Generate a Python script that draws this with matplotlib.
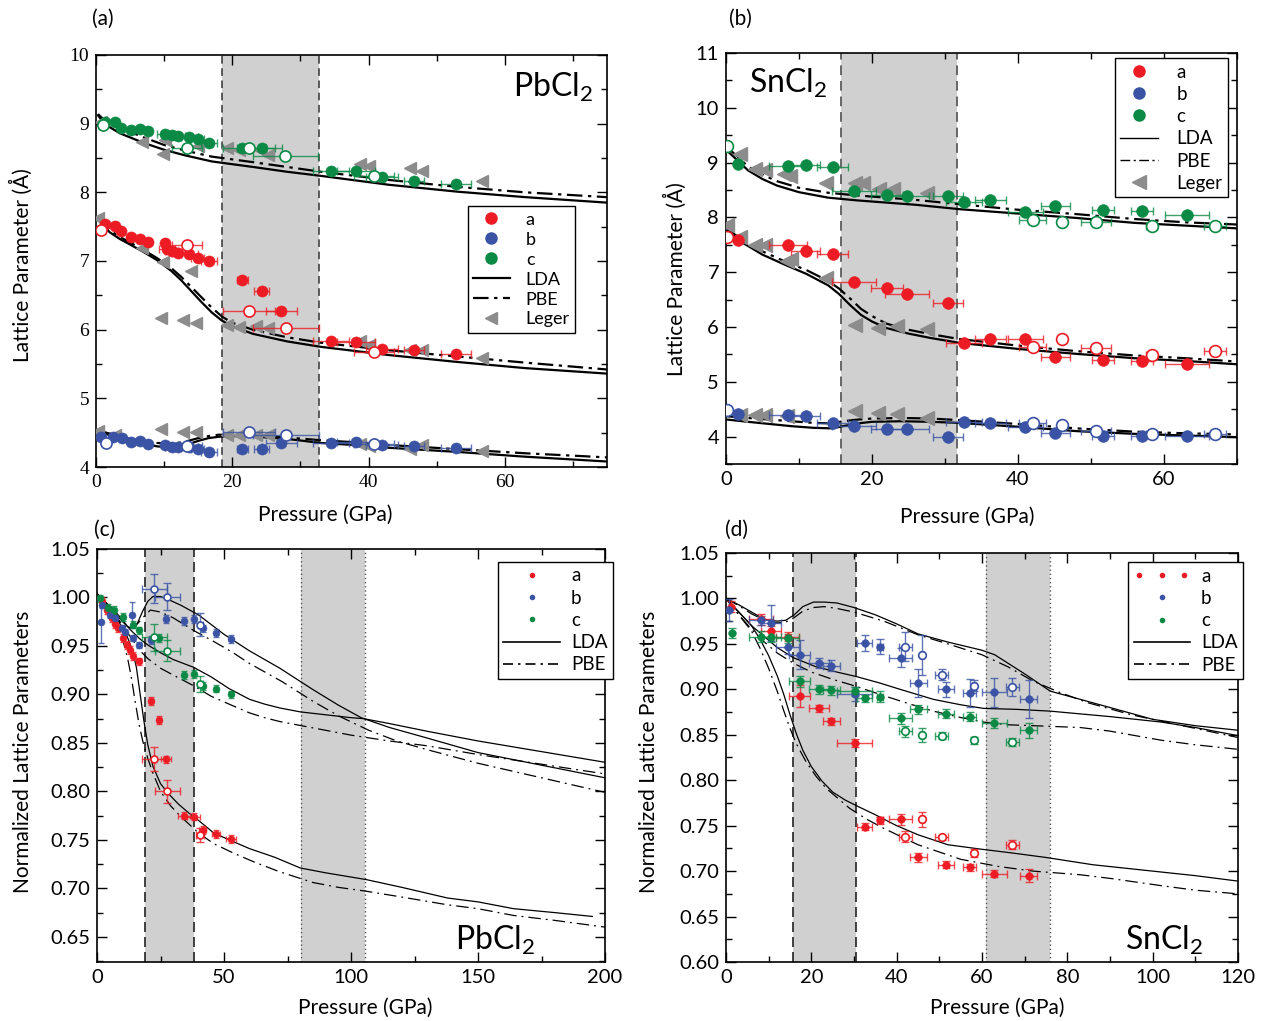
import numpy as np
import matplotlib
matplotlib.use('Agg')
import matplotlib.pyplot as plt
from matplotlib.lines import Line2D
from matplotlib.legend_handler import HandlerLine2D
from matplotlib.ticker import MultipleLocator

# ---------------- Panel (a): PbCl2 lattice parameters ----------------
a_pa_x = [1.3, 2.8, 3.7, 5.2, 6.4, 7.7, 10.1, 10.4, 11.1, 12.1, 13.7, 14.9, 16.6, 21.5, 24.3, 27.2, 34.5, 38.2, 42.0, 46.7, 52.9]
a_pa_y = [7.54, 7.51, 7.44, 7.35, 7.32, 7.28, 7.26, 7.17, 7.15, 7.12, 7.10, 7.05, 7.00, 6.72, 6.57, 6.27, 5.84, 5.82, 5.72, 5.70, 5.65]
a_pa_xe = [0, 0, 0, 0, 0, 0, 0, 1.2, 1.0, 1.0, 1.2, 1.0, 1.2, 0.8, 1.1, 2.3, 2.7, 2.8, 2.3, 1.5, 2.2]
a_pa_ox = [0.8, 13.4, 22.5, 27.9, 40.8]
a_pa_oy = [7.45, 7.23, 6.27, 6.03, 5.67]
a_pa_oxe = [0, 2.2, 3.8, 4.8, 2.9]

a_pb_x = [0.8, 2.5, 3.8, 5.1, 6.4, 7.7, 10.1, 11.1, 12.1, 13.7, 14.9, 16.6, 21.5, 24.3, 27.2, 34.5, 38.2, 42.0, 46.7, 52.9]
a_pb_y = [4.43, 4.44, 4.42, 4.37, 4.38, 4.33, 4.32, 4.29, 4.29, 4.29, 4.26, 4.22, 4.26, 4.26, 4.35, 4.35, 4.36, 4.32, 4.31, 4.27]
a_pb_xe = [0, 0, 0, 0, 0, 0, 0, 1.0, 1.0, 1.2, 1.0, 1.2, 0.8, 1.1, 2.3, 2.7, 2.8, 2.3, 1.5, 2.2]
a_pb_ox = [1.5, 13.4, 22.5, 27.9, 40.8]
a_pb_oy = [4.35, 4.30, 4.51, 4.47, 4.33]
a_pb_oxe = [0, 2.2, 3.8, 4.8, 2.9]

a_pc_x = [1.3, 2.8, 3.7, 5.2, 6.4, 7.7, 10.1, 11.1, 12.1, 13.7, 14.9, 16.6, 21.5, 24.3, 34.5, 38.2, 42.0, 46.7, 52.9]
a_pc_y = [9.02, 9.02, 8.94, 8.91, 8.92, 8.89, 8.85, 8.83, 8.82, 8.80, 8.78, 8.72, 8.65, 8.65, 8.31, 8.31, 8.22, 8.17, 8.12]
a_pc_xe = [0, 0, 0, 0, 0, 0, 1.2, 1.0, 1.0, 1.2, 1.0, 1.2, 0.8, 3.0, 2.7, 2.8, 2.3, 1.5, 2.2]
a_pc_ox = [1.0, 13.3, 22.5, 27.8, 40.8]
a_pc_oy = [8.98, 8.65, 8.65, 8.53, 8.24]
a_pc_oxe = [0, 2.2, 3.8, 4.8, 2.9]

a_leger_x = [0.25, 6.8, 9.9, 13.9, 9.6, 12.7, 14.7, 19.2, 21.0, 23.5, 25.3, 38.7, 40.0, 46.1, 47.8, 56.7,
             0.8, 6.8, 9.9, 10.1, 14.9, 19.2, 21.0, 24.0, 25.3, 38.7, 40.0, 46.1, 47.8, 56.7,
             0.3, 2.8, 9.6, 12.7, 14.7, 19.2, 21.0, 23.5, 25.3, 38.7, 40.0, 46.1, 47.8, 56.7]
a_leger_y = [7.63, 7.19, 6.98, 6.85, 6.17, 6.14, 6.10, 6.07, 6.04, 6.06, 6.03, 5.84, 5.77, 5.71, 5.71, 5.59,
             9.02, 8.73, 8.56, 8.76, 8.68, 8.65, 8.61, 8.61, 8.54, 8.41, 8.39, 8.36, 8.31, 8.17,
             4.52, 4.47, 4.55, 4.51, 4.51, 4.47, 4.46, 4.47, 4.47, 4.33, 4.30, 4.26, 4.32, 4.23]

a_lda_c_x = [0.3, 1, 2, 3.5, 5, 7, 10, 13, 17, 23, 28, 33, 43, 53, 63, 75]
a_lda_c_y = [9.12, 9.03, 8.95, 8.86, 8.80, 8.72, 8.62, 8.54, 8.45, 8.37, 8.30, 8.24, 8.11, 8.01, 7.93, 7.85]
a_pbe_c_y = [9.14, 9.07, 9.00, 8.93, 8.88, 8.80, 8.69, 8.61, 8.52, 8.44, 8.37, 8.30, 8.18, 8.08, 8.00, 7.93]
a_lda_a_x = [0.3, 1, 2, 3.5, 5, 7, 9, 11, 12.5, 14, 15.5, 17, 18.5, 20, 23, 28, 33, 43, 53, 63, 75]
a_lda_a_y = [7.60, 7.52, 7.42, 7.32, 7.24, 7.13, 7.01, 6.86, 6.72, 6.56, 6.40, 6.25, 6.13, 6.05, 5.94, 5.83, 5.75, 5.63, 5.53, 5.44, 5.36]
a_pbe_a_y = [7.62, 7.55, 7.45, 7.35, 7.27, 7.16, 7.04, 6.90, 6.77, 6.62, 6.47, 6.32, 6.19, 6.10, 6.00, 5.89, 5.81, 5.70, 5.61, 5.52, 5.42]
a_lda_b_x = [0.3, 1.5, 3, 5, 7, 9, 10.5, 12, 13.5, 15, 16.5, 18, 20, 22, 25, 28, 33, 38, 43, 53, 63, 75]
a_lda_b_y = [4.52, 4.48, 4.43, 4.38, 4.34, 4.30, 4.29, 4.30, 4.33, 4.38, 4.42, 4.44, 4.45, 4.45, 4.43, 4.41, 4.35, 4.32, 4.28, 4.22, 4.15, 4.08]
a_pbe_b_y = [4.54, 4.50, 4.46, 4.41, 4.38, 4.35, 4.34, 4.35, 4.38, 4.42, 4.45, 4.47, 4.47, 4.46, 4.45, 4.43, 4.39, 4.36, 4.32, 4.26, 4.20, 4.14]
a_shade = [18.5, 32.8]

# ---------------- Panel (b): SnCl2 lattice parameters ----------------
b_p = [1.65, 8.5, 10.9, 14.6, 17.5, 22.0, 24.8, 30.4, 32.6, 36.2, 41.0, 45.1, 51.7, 57.0, 63.1]
b_pe = [0, 2.6, 2.0, 2.1, 3.0, 2.2, 3.0, 2.0, 2.5, 2.1, 2.4, 2.0, 1.5, 1.5, 3.0]
b_a = [7.58, 7.49, 7.38, 7.34, 6.83, 6.72, 6.61, 6.44, 5.71, 5.78, 5.78, 5.46, 5.40, 5.38, 5.32]
b_b = [4.42, 4.40, 4.38, 4.24, 4.20, 4.14, 4.14, 3.99, 4.26, 4.24, 4.18, 4.06, 4.02, 4.01, 4.01]
b_c = [8.98, 8.94, 8.95, 8.92, 8.48, 8.40, 8.39, 8.39, 8.28, 8.32, 8.09, 8.20, 8.14, 8.11, 8.05]
b_op = [0.15, 42.0, 46.0, 50.7, 58.3, 67.0]
b_ope = [0, 1.8, 0.5, 2.1, 0.8, 1.5]
b_oa = [7.64, 5.64, 5.79, 5.62, 5.48, 5.56]
b_ob = [4.49, 4.25, 4.21, 4.10, 4.04, 4.05]
b_oc = [9.31, 7.96, 7.91, 7.91, 7.85, 7.85]
b_leger_x = [1.9, 4.0, 5.4, 8.0, 8.8, 13.7, 17.7, 18.7, 21.0, 22.9, 27.6,
             0.2, 1.9, 4.0, 5.4, 8.3, 8.9, 13.7, 17.7, 20.8, 23.4, 27.6,
             1.9, 4.0, 5.4, 8.3, 17.7, 20.8, 23.4, 27.6]
b_leger_y = [9.15, 8.89, 8.87, 8.79, 8.76, 8.62, 8.62, 8.62, 8.52, 8.51, 8.45,
             7.86, 7.64, 7.49, 7.49, 7.21, 7.24, 6.89, 6.03, 5.99, 6.02, 5.97,
             4.40, 4.40, 4.40, 4.38, 4.46, 4.43, 4.42, 4.34]
b_lda_c_x = [0.2, 1.5, 3, 5, 7, 10, 14, 18, 22, 26, 32, 40, 48, 56, 63, 70]
b_lda_c_y = [9.21, 9.05, 8.86, 8.70, 8.58, 8.46, 8.36, 8.31, 8.27, 8.23, 8.15, 8.07, 7.99, 7.90, 7.85, 7.80]
b_pbe_c_y = [9.27, 9.12, 8.93, 8.78, 8.66, 8.54, 8.45, 8.40, 8.36, 8.32, 8.24, 8.14, 8.06, 7.97, 7.91, 7.87]
b_lda_a_x = [0.2, 2, 5, 8, 11, 14, 15.5, 17, 18.5, 20, 22, 25, 28, 32, 40, 48, 56, 63, 70]
b_lda_a_y = [7.76, 7.56, 7.32, 7.14, 6.97, 6.76, 6.60, 6.40, 6.22, 6.10, 5.98, 5.88, 5.80, 5.71, 5.60, 5.51, 5.43, 5.38, 5.32]
b_pbe_a_y = [7.80, 7.60, 7.38, 7.20, 7.04, 6.84, 6.70, 6.52, 6.33, 6.20, 6.06, 5.95, 5.87, 5.78, 5.66, 5.56, 5.48, 5.43, 5.37]
b_lda_b_x = [0.2, 3, 6, 9, 12, 14.5, 16, 18, 20, 24, 28, 32, 40, 48, 56, 63, 70]
b_lda_b_y = [4.31, 4.27, 4.23, 4.19, 4.16, 4.15, 4.19, 4.24, 4.27, 4.28, 4.27, 4.25, 4.18, 4.10, 4.05, 4.02, 3.99]
b_pbe_b_y = [4.37, 4.34, 4.31, 4.28, 4.25, 4.24, 4.28, 4.31, 4.33, 4.34, 4.33, 4.30, 4.23, 4.15, 4.09, 4.06, 4.04]
b_shade = [15.8, 31.7]

# ---------------- Panel (c): PbCl2 normalized ----------------
c_ra_x = [1.9, 3.9, 5.8, 7.1, 8.4, 10.4, 11.7, 13.0, 14.3, 16.5, 21.4, 24.3, 27.3, 34.2, 38.1, 41.6, 46.8, 52.6]
c_ra_y = [0.996, 0.987, 0.979, 0.973, 0.968, 0.958, 0.951, 0.946, 0.940, 0.934, 0.893, 0.874, 0.833, 0.775, 0.774, 0.760, 0.756, 0.751]
c_ra_xe = [0, 0, 0, 0, 0, 0, 0, 0, 0, 1.0, 0.8, 0.8, 2.0, 2.5, 2.5, 1.5, 1.5, 2.0]
c_ra_ox = [22.5, 27.7, 40.6]
c_ra_oy = [0.833, 0.800, 0.755]
c_ra_oxe = [4.9, 4.9, 1.5]
c_ra_oye = [0.0125, 0.012, 0.007]
c_rb_x = [1.7, 1.9, 5.2, 7.1, 9.7, 11.0, 13.6, 14.3, 16.5, 21.4, 27.3, 34.4, 38.1, 41.9, 46.8, 52.6]
c_rb_y = [0.975, 0.992, 0.982, 0.979, 0.969, 0.964, 0.982, 0.958, 0.951, 0.956, 0.978, 0.976, 0.978, 0.968, 0.963, 0.957]
c_rb_ye = [0.022, 0.003, 0.003, 0.003, 0.003, 0.003, 0.013, 0.003, 0.003, 0.004, 0.004, 0.004, 0.004, 0.004, 0.004, 0.004]
c_rb_ox = [22.5, 27.7, 40.6]
c_rb_oy = [1.009, 1.001, 0.972]
c_rb_oxe = [4.9, 4.9, 1.0]
c_rb_oye = [0.015, 0.014, 0.012]
c_rc_x = [1.3, 4.5, 6.5, 10.4, 14.3, 16.5, 24.3, 34.2, 38.1, 41.9, 46.8, 52.6]
c_rc_y = [0.999, 0.989, 0.987, 0.980, 0.972, 0.966, 0.958, 0.920, 0.921, 0.909, 0.906, 0.900]
c_rc_ox = [22.5, 27.7, 40.6]
c_rc_oy = [0.959, 0.945, 0.911]
c_rc_oxe = [4.9, 4.9, 1.0]
c_rc_oye = [0.014, 0.011, 0.008]

c_lda_b_x = [0, 3, 6, 9, 12, 14, 16, 18, 20, 22, 25, 28, 33, 40, 50, 60, 72, 85, 95, 104, 115, 130, 150, 175, 200]
c_lda_b_y = [1.004, 0.996, 0.987, 0.978, 0.970, 0.968, 0.974, 0.986, 0.996, 1.001, 1.001, 0.998, 0.992, 0.982, 0.962, 0.945, 0.927, 0.905, 0.889, 0.876, 0.866, 0.855, 0.840, 0.827, 0.814]
c_pbe_b_x = [0, 3, 6, 9, 12, 15, 18, 21, 25, 30, 38, 45, 53, 60, 73, 85, 95, 107, 118, 130, 150, 175, 200]
c_pbe_b_y = [1.003, 0.993, 0.984, 0.975, 0.968, 0.970, 0.979, 0.987, 0.985, 0.979, 0.966, 0.956, 0.944, 0.932, 0.913, 0.893, 0.878, 0.863, 0.852, 0.843, 0.829, 0.814, 0.799]
c_lda_c_x = [0, 3, 6, 9, 13, 17, 20, 25, 30, 38, 45, 52, 60, 66, 72, 80, 90, 100, 105, 115, 130, 150, 175, 200]
c_lda_c_y = [1.004, 0.996, 0.989, 0.980, 0.967, 0.957, 0.951, 0.943, 0.936, 0.928, 0.918, 0.906, 0.895, 0.890, 0.886, 0.882, 0.879, 0.876, 0.875, 0.870, 0.862, 0.852, 0.841, 0.830]
c_pbe_c_y = [1.003, 0.993, 0.985, 0.975, 0.960, 0.945, 0.937, 0.927, 0.920, 0.909, 0.898, 0.890, 0.881, 0.876, 0.872, 0.868, 0.863, 0.858, 0.856, 0.852, 0.847, 0.838, 0.828, 0.818]
c_lda_a_x = [0, 3, 6, 9, 12, 14, 15.5, 17, 18.5, 20, 22, 25, 28, 32, 36, 40, 46, 52, 60, 70, 80, 90, 106, 120, 138, 150, 164, 180, 195]
c_lda_a_y = [1.004, 0.994, 0.985, 0.973, 0.959, 0.945, 0.928, 0.900, 0.872, 0.848, 0.826, 0.808, 0.798, 0.787, 0.778, 0.770, 0.757, 0.750, 0.741, 0.732, 0.721, 0.716, 0.709, 0.701, 0.690, 0.686, 0.679, 0.675, 0.671]
c_pbe_a_x = [0, 3, 6, 8, 10, 12, 13.5, 15, 16.5, 18, 20, 22, 25, 29, 33, 40, 46, 54, 62, 72, 85, 95, 106, 120, 138, 150, 164, 180, 200]
c_pbe_a_y = [1.003, 0.992, 0.982, 0.972, 0.958, 0.938, 0.918, 0.893, 0.870, 0.852, 0.834, 0.819, 0.800, 0.785, 0.774, 0.757, 0.746, 0.736, 0.727, 0.717, 0.706, 0.701, 0.697, 0.691, 0.683, 0.679, 0.672, 0.667, 0.660]
c_shade1 = [18.8, 38.3]
c_shade2 = [80.5, 105.5]

# ---------------- Panel (d): SnCl2 normalized ----------------
d_p = [8.2, 10.6, 14.5, 17.3, 21.8, 24.7, 30.2, 32.5, 36.1, 40.9, 45.1, 51.6, 57.1, 62.9, 71.0]
d_pe = [2.7, 2.4, 2.7, 2.5, 2.4, 2.0, 4.1, 1.8, 0.8, 2.8, 2.0, 1.8, 1.5, 3.0, 2.0]
d_a = [0.977, 0.964, 0.958, 0.893, 0.879, 0.865, 0.841, 0.749, 0.756, 0.757, 0.715, 0.707, 0.704, 0.697, 0.695]
d_ae = [0.006, 0.006, 0.005, 0.012, 0.004, 0.004, 0.004, 0.004, 0.004, 0.006, 0.005, 0.004, 0.004, 0.004, 0.007]
d_b = [0.976, 0.973, 0.947, 0.938, 0.929, 0.926, 0.895, 0.951, 0.947, 0.935, 0.907, 0.900, 0.896, 0.897, 0.889]
d_be = [0.005, 0.020, 0.008, 0.016, 0.006, 0.006, 0.008, 0.009, 0.008, 0.010, 0.015, 0.008, 0.015, 0.016, 0.021]
d_c = [0.958, 0.958, 0.956, 0.909, 0.900, 0.899, 0.898, 0.890, 0.892, 0.868, 0.878, 0.873, 0.870, 0.863, 0.855]
d_ce = [0.006, 0.006, 0.005, 0.006, 0.005, 0.005, 0.005, 0.004, 0.006, 0.006, 0.005, 0.005, 0.005, 0.006, 0.008]
d_p0 = [1.2, 0.8, 1.4]
d_v0 = [0.991, 0.987, 0.962]
d_e0 = [0.006, 0.012, 0.006]
d_op = [42.0, 45.9, 50.6, 58.2, 67.1]
d_ope = [1.5, 0.5, 1.5, 0.5, 1.5]
d_oa = [0.738, 0.757, 0.737, 0.720, 0.729]
d_oae = [0.006, 0.008, 0.003, 0.004, 0.005]
d_ob = [0.947, 0.938, 0.916, 0.904, 0.903]
d_obe = [0.016, 0.022, 0.006, 0.006, 0.010]
d_oc = [0.854, 0.850, 0.849, 0.844, 0.842]
d_oce = [0.006, 0.008, 0.004, 0.004, 0.004]

d_lda_b_x = [0, 3, 6, 9, 12, 14, 16, 18, 20.5, 23, 26, 30, 35, 40, 45, 52, 60, 63, 66, 70, 76, 83, 90, 100, 110, 120]
d_lda_b_y = [1.0, 0.993, 0.985, 0.977, 0.975, 0.976, 0.982, 0.991, 0.996, 0.996, 0.995, 0.990, 0.982, 0.972, 0.961, 0.952, 0.943, 0.938, 0.929, 0.917, 0.898, 0.889, 0.880, 0.867, 0.860, 0.855]
d_pbe_b_x = [0, 3, 6, 9, 12, 14, 16, 18, 20.5, 23, 26, 30, 37, 45, 52, 60, 66, 72, 78, 85, 95, 105, 120]
d_pbe_b_y = [1.0, 0.992, 0.983, 0.976, 0.973, 0.974, 0.979, 0.986, 0.990, 0.991, 0.989, 0.985, 0.975, 0.960, 0.950, 0.938, 0.925, 0.909, 0.897, 0.885, 0.872, 0.862, 0.847]
d_lda_c_x = [0, 3, 6, 9, 12, 15.7, 21, 26, 30.6, 36, 40.8, 48.6, 55, 60.4, 68, 76, 83, 90, 102, 110, 120]
d_lda_c_y = [1.0, 0.985, 0.970, 0.958, 0.946, 0.935, 0.925, 0.919, 0.914, 0.907, 0.900, 0.889, 0.883, 0.879, 0.878, 0.876, 0.873, 0.870, 0.864, 0.858, 0.849]
d_pbe_c_x = [0, 3, 6, 9, 12, 15.7, 20, 25, 30, 37, 43, 48.6, 55, 60.4, 66, 72, 83, 90, 102, 110, 120]
d_pbe_c_y = [1.0, 0.982, 0.966, 0.952, 0.940, 0.929, 0.919, 0.911, 0.904, 0.893, 0.884, 0.876, 0.869, 0.864, 0.861, 0.860, 0.858, 0.854, 0.844, 0.839, 0.834]
d_lda_a_x = [0, 3, 6, 8, 10, 12, 13.5, 15, 16.5, 18, 20, 22.5, 25, 28, 31, 35, 40, 45, 52, 60, 67, 75, 86, 100, 110, 120]
d_lda_a_y = [1.0, 0.985, 0.970, 0.955, 0.937, 0.915, 0.895, 0.872, 0.851, 0.833, 0.815, 0.799, 0.787, 0.778, 0.771, 0.762, 0.750, 0.740, 0.729, 0.724, 0.720, 0.715, 0.707, 0.700, 0.695, 0.689]
d_pbe_a_x = [0, 3, 6, 8, 10, 12, 13.5, 15, 16.5, 18.8, 21, 23.5, 26, 29, 33, 37, 45, 55, 64, 72, 83, 90, 102, 110, 120]
d_pbe_a_y = [1.0, 0.982, 0.964, 0.945, 0.923, 0.898, 0.877, 0.857, 0.840, 0.820, 0.805, 0.791, 0.781, 0.769, 0.757, 0.747, 0.729, 0.713, 0.705, 0.700, 0.696, 0.692, 0.684, 0.679, 0.675]
d_shade1 = [15.7, 30.4]
d_shade2 = [60.9, 75.9]

# ---------------- Styling ----------------
SANS = 'Lato'
SERIF = 'Liberation Serif'
plt.rcParams['font.family'] = [SANS, 'DejaVu Sans']
plt.rcParams['mathtext.default'] = 'regular'

RED = '#ED1C24'
BLUE = '#3A53A4'
GREEN = '#0B8A45'
GREY = '#8C8C8C'
SHADE = '#D0D0D0'
PBE_A = (0, (7, 2.5, 1.5, 2.5))
PBE_C = (0, (10, 4, 1.5, 4))
FS = 15      # axis labels
TFS = 14.5   # tick labels
LFS = 13.5   # legend

fig = plt.figure(figsize=(12.64, 10.21), dpi=100)
W, H = 1264.0, 1021.0


def px_axes(l, t, r, b):
    return fig.add_axes([l / W, 1 - b / H, (r - l) / W, (b - t) / H])


axa = px_axes(96, 55, 607, 467)
axb = px_axes(726, 53, 1237, 464)
axc = px_axes(97, 549, 605, 962)
axd = px_axes(726, 553, 1238, 962)


def style(ax, xmaj, xmin, ymaj, ymin, tickfont, tsize, fmt=None):
    ax.xaxis.set_major_locator(MultipleLocator(xmaj))
    ax.xaxis.set_minor_locator(MultipleLocator(xmin))
    ax.yaxis.set_major_locator(MultipleLocator(ymaj))
    ax.yaxis.set_minor_locator(MultipleLocator(ymin))
    ax.tick_params(which='both', direction='in', top=True, right=True, width=1.0, labelsize=tsize, pad=5)
    ax.tick_params(which='major', length=7)
    ax.tick_params(which='minor', length=4)
    for s in ax.spines.values():
        s.set_linewidth(1.2)
    for lbl in ax.get_xticklabels() + ax.get_yticklabels():
        lbl.set_fontfamily(tickfont)
    if fmt is not None:
        ax.yaxis.set_major_formatter(plt.FormatStrFormatter(fmt))


def points(ax, x, y, color, filled, ms, xerr=None, yerr=None, z=5, cap=3.0, elw=1.0, mew=1.2):
    x = np.asarray(x, float)
    y = np.asarray(y, float)
    for err, key in ((xerr, 'xerr'), (yerr, 'yerr')):
        if err is None:
            continue
        e = np.asarray(err, float)
        m = e > 0
        if m.any():
            ax.errorbar(x[m], y[m], **{key: e[m]}, fmt='none', ecolor=color, elinewidth=elw,
                        capsize=cap, capthick=elw, alpha=0.8, zorder=z)
    ax.plot(x, y, ls='none', marker='o', ms=ms, mfc=color if filled else 'white', mec=color,
            mew=0.4 if filled else mew, zorder=z + 1)


def shade(ax, lo, hi, style_ls, color, lw):
    ax.axvspan(lo, hi, color=SHADE, zorder=0, lw=0)
    for v in (lo, hi):
        ax.axvline(v, color=color, ls=style_ls, lw=lw, zorder=1)


def formula(ax, x, y, base, ha):
    t = ax.text(x, y, base + '$_2$', transform=ax.transAxes, fontsize=23, ha=ha, va='baseline')
    return t


# ---------------- Panel (a) ----------------
ax = axa
ax.set_xlim(0, 75)
ax.set_ylim(4, 10)
shade(ax, a_shade[0], a_shade[1], (0, (5, 3)), '#333333', 1.1)
for xs, yl, yp in ((a_lda_c_x, a_lda_c_y, a_pbe_c_y), (a_lda_a_x, a_lda_a_y, a_pbe_a_y), (a_lda_b_x, a_lda_b_y, a_pbe_b_y)):
    ax.plot(xs, yl, color='black', lw=1.6, zorder=3)
    ax.plot(xs, yp, color='black', lw=1.6, ls=PBE_A, zorder=3)
ax.plot(a_leger_x, a_leger_y, ls='none', marker='<', ms=9, color=GREY, mec=GREY, zorder=4)
for (fx, fy, fe, ox, oy, oe, col) in ((a_pa_x, a_pa_y, a_pa_xe, a_pa_ox, a_pa_oy, a_pa_oxe, RED),
                                      (a_pb_x, a_pb_y, a_pb_xe, a_pb_ox, a_pb_oy, a_pb_oxe, BLUE),
                                      (a_pc_x, a_pc_y, a_pc_xe, a_pc_ox, a_pc_oy, a_pc_oxe, GREEN)):
    points(ax, fx, fy, col, True, 8, xerr=fe)
    points(ax, ox, oy, col, False, 8, xerr=oe)
style(ax, 20, 10, 1, 0.5, SERIF, 14)
ax.set_xlabel('Pressure (GPa)', fontsize=FS)
ax.set_ylabel('Lattice Parameter (Å)', fontsize=FS)
ax.xaxis.set_label_coords(0.448, -0.092)
ax.yaxis.set_label_coords(-0.123, 0.49)
formula(ax, 0.973, 0.898, 'PbCl', 'right')
hand = [Line2D([], [], ls='none', marker='o', ms=8, color=RED),
        Line2D([], [], ls='none', marker='o', ms=8, color=BLUE),
        Line2D([], [], ls='none', marker='o', ms=8, color=GREEN),
        Line2D([], [], color='black', lw=1.6),
        Line2D([], [], color='black', lw=1.6, ls=PBE_A),
        Line2D([], [], ls='none', marker='<', ms=9, color=GREY)]
leg = ax.legend(hand, ['a', 'b', 'c', 'LDA', 'PBE', 'Leger'], loc='upper left', bbox_to_anchor=(0.728, 0.633),
                fontsize=13, frameon=True, fancybox=False, edgecolor='black', framealpha=1,
                borderpad=0.3, labelspacing=0.22, handlelength=2.0, handletextpad=0.9, borderaxespad=0)
leg.get_frame().set_linewidth(1.0)

# ---------------- Panel (b) ----------------
ax = axb
ax.set_xlim(0, 70)
ax.set_ylim(3.5, 11)
shade(ax, b_shade[0], b_shade[1], (0, (5, 3)), '#666666', 1.4)
for xs, yl, yp in ((b_lda_c_x, b_lda_c_y, b_pbe_c_y), (b_lda_a_x, b_lda_a_y, b_pbe_a_y), (b_lda_b_x, b_lda_b_y, b_pbe_b_y)):
    ax.plot(xs, yl, color='black', lw=1.6, zorder=3)
    ax.plot(xs, yp, color='black', lw=1.6, ls=PBE_A, zorder=3)
ax.plot(b_leger_x, b_leger_y, ls='none', marker='<', ms=10, color=GREY, mec=GREY, zorder=4)
for fy, oy, col in ((b_a, b_oa, RED), (b_b, b_ob, BLUE), (b_c, b_oc, GREEN)):
    points(ax, b_p, fy, col, True, 8.5, xerr=b_pe)
    points(ax, b_op, oy, col, False, 8.5, xerr=b_ope)
style(ax, 20, 10, 1, 0.5, SANS, TFS)
ax.set_xlabel('Pressure (GPa)', fontsize=FS)
ax.set_ylabel('Lattice Parameter (Å)', fontsize=FS)
ax.xaxis.set_label_coords(0.472, -0.105)
ax.yaxis.set_label_coords(-0.076, 0.45)
formula(ax, 0.045, 0.903, 'SnCl', 'left')
hand = [Line2D([], [], ls='none', marker='o', ms=8, color=RED),
        Line2D([], [], ls='none', marker='o', ms=8, color=BLUE),
        Line2D([], [], ls='none', marker='o', ms=8, color=GREEN),
        Line2D([], [], color='black', lw=1.0),
        Line2D([], [], color='black', lw=1.0, ls=PBE_A),
        Line2D([], [], ls='none', marker='<', ms=10, color=GREY)]
leg = ax.legend(hand, ['a', 'b', 'c', 'LDA', 'PBE', 'Leger'], loc='upper left', bbox_to_anchor=(0.761, 0.988),
                fontsize=LFS, frameon=True, fancybox=False, edgecolor='black', framealpha=1,
                borderpad=0.3, labelspacing=0.28, handlelength=2.0, handletextpad=1.0, borderaxespad=0)
leg.get_frame().set_linewidth(1.0)

# ---------------- Panel (c) ----------------
ax = axc
ax.set_xlim(0, 200)
ax.set_ylim(0.624, 1.05)
shade(ax, c_shade1[0], c_shade1[1], (0, (6, 3)), '#222222', 1.2)
shade(ax, c_shade2[0], c_shade2[1], (0, (1, 2)), '#555555', 1.0)
for xs, ys in ((c_lda_b_x, c_lda_b_y), (c_lda_c_x, c_lda_c_y), (c_lda_a_x, c_lda_a_y)):
    ax.plot(xs, ys, color='black', lw=0.9, zorder=3)
for xs, ys in ((c_pbe_b_x, c_pbe_b_y), (c_lda_c_x, c_pbe_c_y), (c_pbe_a_x, c_pbe_a_y)):
    ax.plot(xs, ys, color='black', lw=0.9, ls=PBE_C, zorder=3)
points(ax, c_ra_x, c_ra_y, RED, True, 5, xerr=c_ra_xe, yerr=[0.004] * len(c_ra_x), cap=2.5)
points(ax, c_ra_ox, c_ra_oy, RED, False, 5, xerr=c_ra_oxe, yerr=c_ra_oye, cap=3)
points(ax, c_rb_x, c_rb_y, BLUE, True, 5, yerr=c_rb_ye, cap=2.5)
points(ax, c_rb_ox, c_rb_oy, BLUE, False, 5, xerr=c_rb_oxe, yerr=c_rb_oye, cap=3)
points(ax, c_rc_x, c_rc_y, GREEN, True, 5, yerr=[0.004] * len(c_rc_x), cap=2.5)
points(ax, c_rc_ox, c_rc_oy, GREEN, False, 5, xerr=c_rc_oxe, yerr=c_rc_oye, cap=3)
style(ax, 50, 25, 0.05, 0.025, SANS, TFS, '%.2f')
ax.set_xlabel('Pressure (GPa)', fontsize=FS)
ax.set_ylabel('Normalized Lattice Parameters', fontsize=FS)
ax.xaxis.set_label_coords(0.528, -0.087)
ax.yaxis.set_label_coords(-0.126, 0.508)
formula(ax, 0.705, 0.029, 'PbCl', 'left')
hand = [Line2D([], [], ls='none', marker='o', ms=3, color=RED),
        Line2D([], [], ls='none', marker='o', ms=3, color=BLUE),
        Line2D([], [], ls='none', marker='o', ms=3, color=GREEN),
        Line2D([], [], color='black', lw=1.2),
        Line2D([], [], color='black', lw=1.2, ls=(0, (6, 3, 1.5, 3)))]
leg = ax.legend(hand, ['a', 'b', 'c', 'LDA', 'PBE'], loc='upper left', bbox_to_anchor=(0.789, 0.969),
                fontsize=LFS, frameon=True, fancybox=False, edgecolor='black', framealpha=1,
                borderpad=0.3, labelspacing=0.28, handlelength=3.0, handletextpad=0.6, borderaxespad=0)
leg.get_frame().set_linewidth(1.0)

# ---------------- Panel (d) ----------------
ax = axd
ax.set_xlim(0, 120)
ax.set_ylim(0.60, 1.05)
shade(ax, d_shade1[0], d_shade1[1], (0, (6, 3)), '#222222', 1.2)
shade(ax, d_shade2[0], d_shade2[1], (0, (1, 2)), '#555555', 1.0)
for xs, ys in ((d_lda_b_x, d_lda_b_y), (d_lda_c_x, d_lda_c_y), (d_lda_a_x, d_lda_a_y)):
    ax.plot(xs, ys, color='black', lw=0.9, zorder=3)
for xs, ys in ((d_pbe_b_x, d_pbe_b_y), (d_pbe_c_x, d_pbe_c_y), (d_pbe_a_x, d_pbe_a_y)):
    ax.plot(xs, ys, color='black', lw=0.9, ls=PBE_C, zorder=3)
for fy, fe, oy, oe, col, i in ((d_a, d_ae, d_oa, d_oae, RED, 0), (d_b, d_be, d_ob, d_obe, BLUE, 1),
                                (d_c, d_ce, d_oc, d_oce, GREEN, 2)):
    points(ax, [d_p0[i]] + d_p, [d_v0[i]] + fy, col, True, 5.5, xerr=[0] + d_pe, yerr=[d_e0[i]] + fe, cap=3)
    points(ax, d_op, oy, col, False, 5.5, xerr=d_ope, yerr=oe, cap=3)
style(ax, 20, 10, 0.05, 0.025, SANS, TFS, '%.2f')
ax.set_xlabel('Pressure (GPa)', fontsize=FS)
ax.set_ylabel('Normalized Lattice Parameters', fontsize=FS)
ax.xaxis.set_label_coords(0.529, -0.088)
ax.yaxis.set_label_coords(-0.131, 0.513)
formula(ax, 0.779, 0.029, 'SnCl', 'left')
h_a = Line2D([], [], ls='none', marker='o', ms=3, color=RED)
hand = [h_a,
        Line2D([], [], ls='none', marker='o', ms=3, color=BLUE),
        Line2D([], [], ls='none', marker='o', ms=3, color=GREEN),
        Line2D([], [], color='black', lw=1.2),
        Line2D([], [], color='black', lw=1.2, ls=(0, (6, 3, 1.5, 3)))]
leg = ax.legend(hand, ['a', 'b', 'c', 'LDA', 'PBE'], loc='upper left', bbox_to_anchor=(0.785, 0.978),
                fontsize=LFS, frameon=True, fancybox=False, edgecolor='black', framealpha=1,
                borderpad=0.3, labelspacing=0.28, handlelength=3.0, handletextpad=0.6, borderaxespad=0,
                handler_map={h_a: HandlerLine2D(numpoints=3)})
leg.get_frame().set_linewidth(1.0)

# panel letters
for txt, xp, yp in (('(a)', 103, 19), ('(b)', 740, 19), ('(c)', 105, 530), ('(d)', 736, 530)):
    fig.text(xp / W, 1 - yp / H, txt, fontsize=FS, ha='center', va='center')

fig.savefig('out.png', dpi=100)
